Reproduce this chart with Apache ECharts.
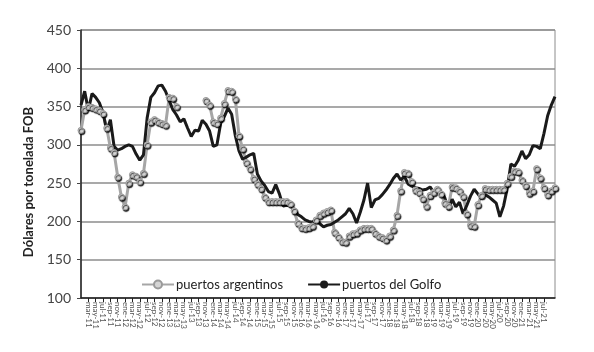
<!DOCTYPE html>
<html>
<head>
<meta charset="utf-8">
<script src="https://cdn.jsdelivr.net/npm/echarts@6/dist/echarts.min.js"></script>
<style>
  html, body { margin: 0; padding: 0; background: #fff; }
  #chart { width: 594px; height: 352px; }
</style>
</head>
<body>
<div id="chart"></div>
<script>
  // meses / años del eje X (mensual, ene-11 a oct-21)
  const meses = ['ene','feb','mar','abr','may','jun','jul','ago','sep','oct','nov','dic'];
  const anios = ['11','12','13','14','15','16','17','18','19','20','21'];
  const fechas = [];
  anios.forEach(a => meses.forEach(m => fechas.push(m + '-' + a)));
  fechas.length = 130;

  // precios FOB, dólares por tonelada
  const argentinos = [
    319,346,350,349,347,345,341,322,296,290,
    258,232,219,250,261,259,252,263,300,330,
    333,330,328,326,362,361,350,null,null,null,
    null,null,null,null,358,352,330,328,335,354,
    371,370,360,312,295,277,269,256,249,243,
    232,226,226,226,226,226,226,223,214,198,
    192,191,192,194,202,208,211,213,215,186,
    180,174,173,181,184,185,189,191,191,191,
    185,181,179,176,181,189,208,240,264,263,
    252,241,238,230,220,234,238,242,236,224,
    220,245,244,240,233,210,195,194,222,234,
    243,242,242,242,242,242,250,259,266,265,
    254,247,237,240,269,257,244,235,240,244
  ];
  const golfo = [
    352,370,345,367,362,355,342,318,333,298,
    293,295,298,300,298,288,280,287,335,362,
    368,377,378,370,358,346,339,330,334,322,
    311,319,318,332,327,318,298,300,328,337,
    348,340,312,292,281,284,287,289,262,253,
    247,239,237,248,236,220,221,220,216,209,
    206,202,200,199,203,197,193,195,196,199,
    202,206,210,217,210,198,212,228,250,218,
    228,230,235,241,248,256,262,254,259,249,
    246,244,243,241,242,245,238,238,238,231,
    215,229,219,225,210,221,233,242,236,230,
    235,232,228,224,206,220,243,275,272,280,
    292,282,287,299,298,295,315,338,352,363
  ];
  const ticksY = [100, 450, 50];

  const chart = echarts.init(document.getElementById('chart'));
  chart.setOption({
    animation: false,
    backgroundColor: '#fff',
    textStyle: { fontFamily: 'Lato, "Open Sans", sans-serif' },
    grid: {
      left: 81, right: 39, top: 30, bottom: 54,
      show: true, borderColor: '#8c8c8c', borderWidth: 1
    },
    legend: {
      left: 136, top: 273,
      itemWidth: 32, itemHeight: 10, itemGap: 24,
      textStyle: { fontSize: 13, color: '#222', padding: [0, 0, 0, -3] },
      data: ['puertos argentinos', 'puertos del Golfo']
    },
    xAxis: {
      type: 'category',
      boundaryGap: false,
      data: fechas,
      axisLine: { lineStyle: { color: '#222', width: 1.5 } },
      axisTick: { interval: 1, length: 4, lineStyle: { color: '#222' } },
      axisLabel: { interval: 1, rotate: -90, fontSize: 8, color: '#555', margin: 4 },
      splitLine: { show: false }
    },
    yAxis: {
      type: 'value',
      min: ticksY[0], max: ticksY[1], interval: ticksY[2],
      axisLine: { show: true, lineStyle: { color: '#222', width: 1.5 } },
      axisTick: { show: true, length: 4, lineStyle: { color: '#444' } },
      axisLabel: { fontSize: 14, color: '#444', margin: 10 },
      splitLine: { lineStyle: { color: '#8c8c8c', width: 1.5 } }
    },
    graphic: [{
      type: 'text',
      x: 29, y: 182,
      rotation: Math.PI / 2,
      style: {
        text: 'Dólares por tonelada FOB',
        font: 'bold 13px Lato, "Open Sans", sans-serif',
        fill: '#222',
        textAlign: 'center',
        textVerticalAlign: 'middle'
      }
    }],
    series: [
      {
        name: 'puertos argentinos',
        type: 'line',
        data: argentinos,
        connectNulls: false,
        showAllSymbol: true,
        symbol: 'circle',
        symbolSize: 6,
        lineStyle: { color: '#a6a6a6', width: 3 },
        itemStyle: {
          color: '#d4d4d4', borderColor: '#9a9a9a', borderWidth: 1,
          shadowColor: 'rgba(0,0,0,0.8)', shadowOffsetX: 1, shadowOffsetY: 1.5, shadowBlur: 1
        }
      },
      {
        name: 'puertos del Golfo',
        type: 'line',
        data: golfo,
        symbol: 'none',
        lineStyle: { color: '#1a1a1a', width: 3 },
        itemStyle: { color: '#1a1a1a' }
      }
    ]
  });
</script>
</body>
</html>
